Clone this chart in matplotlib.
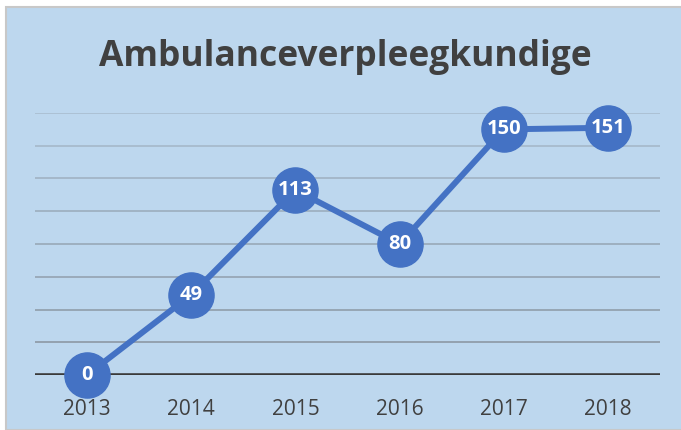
import matplotlib.pyplot as plt
from matplotlib.patches import Rectangle

years = ['2013', '2014', '2015', '2016', '2017', '2018']
counts = [0, 49, 113, 80, 150, 151]
grid_levels = [20, 40, 60, 80, 100, 120, 140, 160]

bg = '#BDD7EE'
blue = '#4472C4'
dark = '#404040'

fig = plt.figure(figsize=(6.81, 4.30), dpi=100)
fig.patch.set_facecolor('white')

# chart panel with thin grey frame
fig.patches.append(Rectangle((6 / 681, 0), 1, 1 - 7 / 430, transform=fig.transFigure,
                             facecolor=bg, edgecolor='#C8C8C8', linewidth=1.5, zorder=-1))

ax = fig.add_axes([35 / 681, 1 - 375 / 430, 625 / 681, 262 / 430])
ax.set_zorder(2)
ax.set_facecolor('none')

x = list(range(len(years)))
ax.set_xlim(-0.5, len(years) - 0.5)
ax.set_ylim(0, 160)

# horizontal gridlines, fading toward the top
for i, lvl in enumerate(grid_levels):
    shade = 0.35 + 0.5 * (len(grid_levels) - 1 - i) / (len(grid_levels) - 1)
    ax.axhline(lvl, color='#8C98A4', alpha=shade, linewidth=1.4, zorder=1)
ax.axhline(0, color='#3A3A3A', linewidth=3.3, zorder=2)

ax.plot(x, counts, color=blue, linewidth=4.3, marker='o', markersize=32.5,
        markerfacecolor=blue, markeredgecolor=blue, zorder=3, clip_on=False)
for xi, v in zip(x, counts):
    ax.text(xi, v, str(v), color='white', fontsize=14.5, fontweight='bold',
            family='Open Sans', ha='center', va='center', zorder=4)

ax.set_xticks(x)
ax.set_xticklabels(years, fontsize=15, color=dark, family='Open Sans')
ax.tick_params(axis='x', length=0, pad=17)
ax.set_yticks([])
for s in ax.spines.values():
    s.set_visible(False)

fig.text(0.507, 1 - 57 / 430, 'Ambulanceverpleegkundige', fontsize=25.5, fontweight='bold',
         color=dark, family='Open Sans', ha='center', va='center')

fig.savefig('out.png', dpi=100)
